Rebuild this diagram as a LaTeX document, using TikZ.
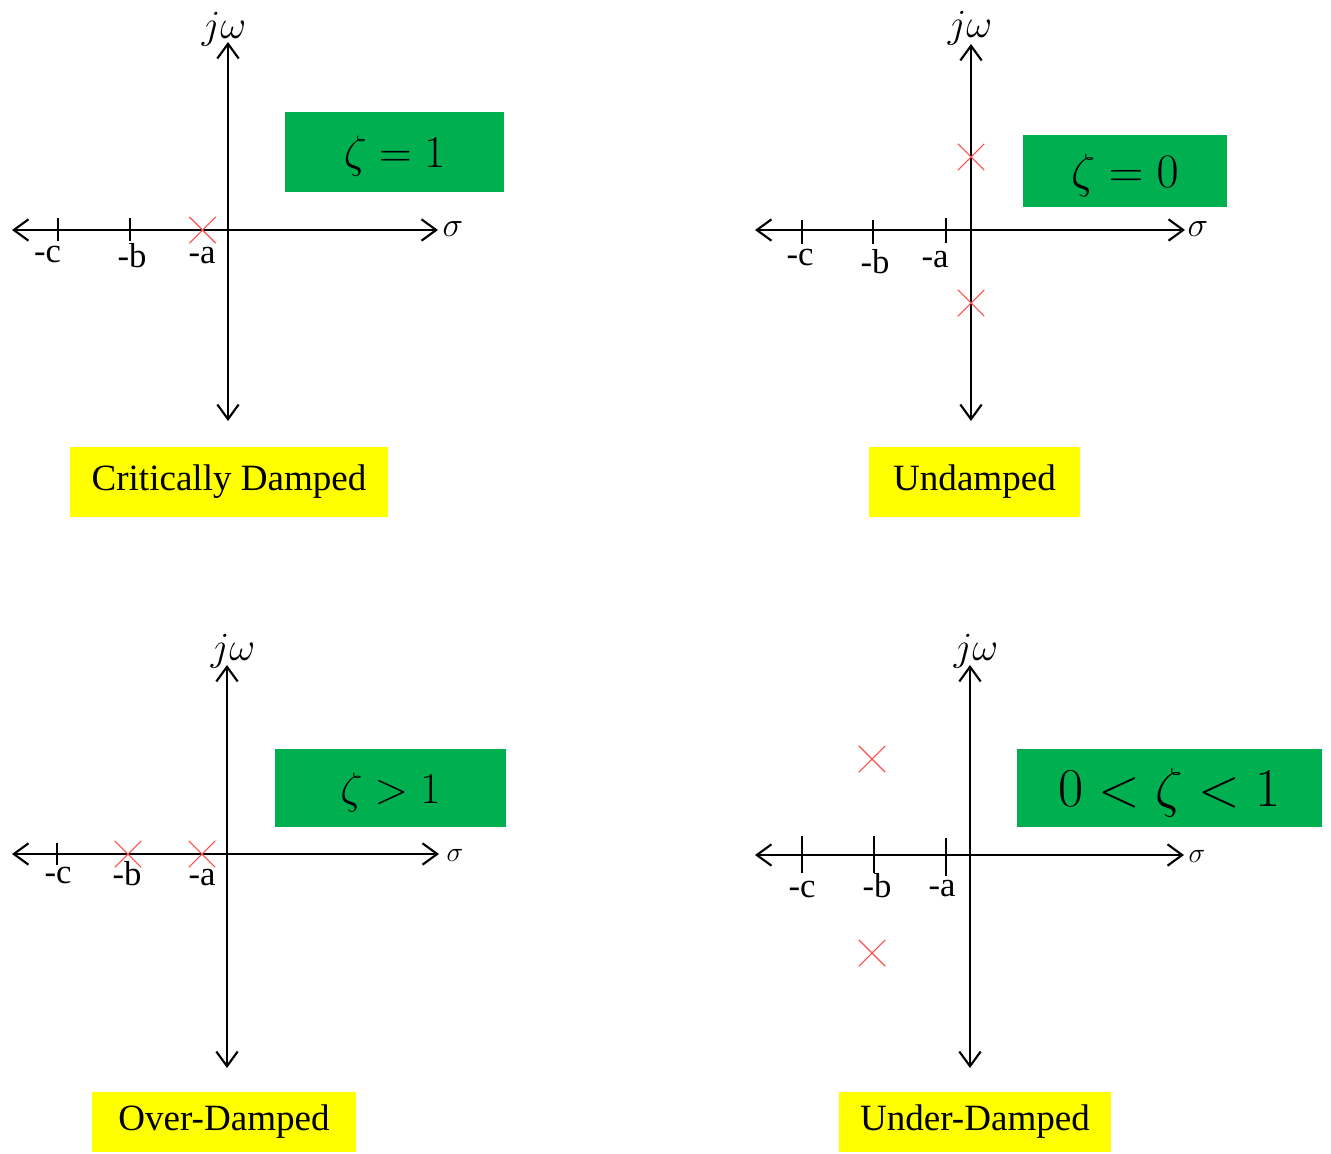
\RequirePackage{fix-cm}
\documentclass[tikz,border=0pt]{standalone}
\usepackage[no-math]{fontspec}
\setmainfont{Liberation Serif}
\usetikzlibrary{arrows.meta,shapes.misc}
\definecolor{boxgreen}{HTML}{00B050}
\definecolor{boxyellow}{HTML}{FFFF00}
\definecolor{polered}{HTML}{FF4D4D}
\begin{document}
\begin{tikzpicture}[x=0.75pt,y=-0.75pt,
  axisline/.style={line width=1.6pt,
    {Straight Barb[length=11pt,width=16pt]}-{Straight Barb[length=11pt,width=16pt]}},
  tickline/.style={line width=0.9pt},
  pole/.style={cross out, draw=polered, line width=0.8pt, minimum size=19pt, inner sep=0pt},
  ticklab/.style={anchor=base, inner sep=0pt, font=\fontsize{26}{30}\selectfont},
  omegalab/.style={inner sep=0pt, font=\fontsize{30}{34}\selectfont},
  sigbig/.style={inner sep=0pt, font=\fontsize{26}{30}\selectfont},
  sigsmall/.style={inner sep=0pt, font=\fontsize{21}{25}\selectfont},
  zetabox/.style={fill=boxgreen, inner sep=0pt, text depth=0pt, minimum height=#1},
  typebox/.style={fill=boxyellow, inner sep=0pt, minimum height=#1, font=\fontsize{27.8}{32}\selectfont},
]
\useasboundingbox (0,0) rectangle (1331,1153);

% ================= Panel 1: critically damped =================
\coordinate (p1L) at (12,230);
\coordinate (p1R) at (438,230);
\coordinate (p1T) at (228,42);
\coordinate (p1B) at (228,421);
\draw[axisline] (p1L) -- (p1R);
\draw[axisline] (p1B) -- (p1T);
\draw[tickline] (58,218) -- (58,241);
\draw[tickline] (130,218) -- (130,241);
\node[pole] (p1pa) at (202.5,230) {};
\node[ticklab] (p1c) at (47.5,262) {-c};
\node[ticklab] (p1b) at (132,267) {-b};
\node[ticklab] (p1a) at (202,263) {-a};
\node[sigbig] (p1s) at (453,229) {$\sigma$};
\node[omegalab] (p1w) at (224,29) {$j\omega$};
\node[zetabox=60pt, minimum width=164.25pt, font=\fontsize{34}{40}\selectfont] (p1z) at (394.5,152) {$\zeta = 1$};
\node[typebox=52.5pt, minimum width=238.5pt] (p1t) at (229,482) {Critically Damped};

% ================= Panel 2: undamped =================
\coordinate (p2L) at (755,230);
\coordinate (p2R) at (1185,230);
\coordinate (p2T) at (971,44);
\coordinate (p2B) at (971,421);
\draw[axisline] (p2L) -- (p2R);
\draw[axisline] (p2B) -- (p2T);
\draw[tickline] (802,220) -- (802,244);
\draw[tickline] (873,220) -- (873,244);
\draw[tickline] (946,218) -- (946,243);
\node[pole] (p2pu) at (971,157) {};
\node[pole] (p2pd) at (971,303) {};
\node[ticklab] (p2c) at (800,265) {-c};
\node[ticklab] (p2b) at (875,273) {-b};
\node[ticklab] (p2a) at (935,267) {-a};
\node[sigbig] (p2s) at (1198,229) {$\sigma$};
\node[omegalab] (p2w) at (970,28) {$j\omega$};
\node[zetabox=54pt, minimum width=153pt, font=\fontsize{36}{42}\selectfont] (p2z) at (1125,171) {$\zeta = 0$};
\node[typebox=52.5pt, minimum width=158.25pt] (p2t) at (974.5,482) {Undamped};

% ================= Panel 3: over-damped =================
\coordinate (p3L) at (12,854);
\coordinate (p3R) at (439,854);
\coordinate (p3T) at (227,665);
\coordinate (p3B) at (227,1068);
\draw[axisline] (p3L) -- (p3R);
\draw[axisline] (p3B) -- (p3T);
\draw[tickline] (57,843) -- (57,865);
\node[pole] (p3pb) at (128,854) {};
\node[pole] (p3pa) at (202,854) {};
\node[ticklab] (p3c) at (58,883) {-c};
\node[ticklab] (p3b) at (127,885) {-b};
\node[ticklab] (p3a) at (202,885) {-a};
\node[sigsmall] (p3s) at (455,855) {$\sigma$};
\node[omegalab] (p3w) at (233,651) {$j\omega$};
\node[zetabox=58.5pt, minimum width=173.25pt, font=\fontsize{33}{39}\selectfont] (p3z) at (390.5,788) {$\zeta > 1$};
\node[typebox=45pt, minimum width=198pt] (p3t) at (224,1122) {Over-Damped};

% ================= Panel 4: under-damped =================
\coordinate (p4L) at (755,855);
\coordinate (p4R) at (1184,855);
\coordinate (p4T) at (970,665);
\coordinate (p4B) at (970,1068);
\draw[axisline] (p4L) -- (p4R);
\draw[axisline] (p4B) -- (p4T);
\draw[tickline] (802,836) -- (802,873);
\draw[tickline] (874,836) -- (874,873);
\draw[tickline] (946,838) -- (946,876);
\node[pole] (p4pu) at (872,759) {};
\node[pole] (p4pd) at (872,953) {};
\node[ticklab] (p4c) at (802,897) {-c};
\node[ticklab] (p4b) at (877,897) {-b};
\node[ticklab] (p4a) at (942,896) {-a};
\node[sigsmall] (p4s) at (1197,856) {$\sigma$};
\node[omegalab] (p4w) at (976,651) {$j\omega$};
\node[zetabox=58.5pt, minimum width=228.75pt, font=\fontsize{41}{48}\selectfont] (p4z) at (1169.5,788) {$0 < \zeta < 1$};
\node[typebox=45pt, minimum width=204pt] (p4t) at (975,1122) {Under-Damped};
\end{tikzpicture}
\end{document}
